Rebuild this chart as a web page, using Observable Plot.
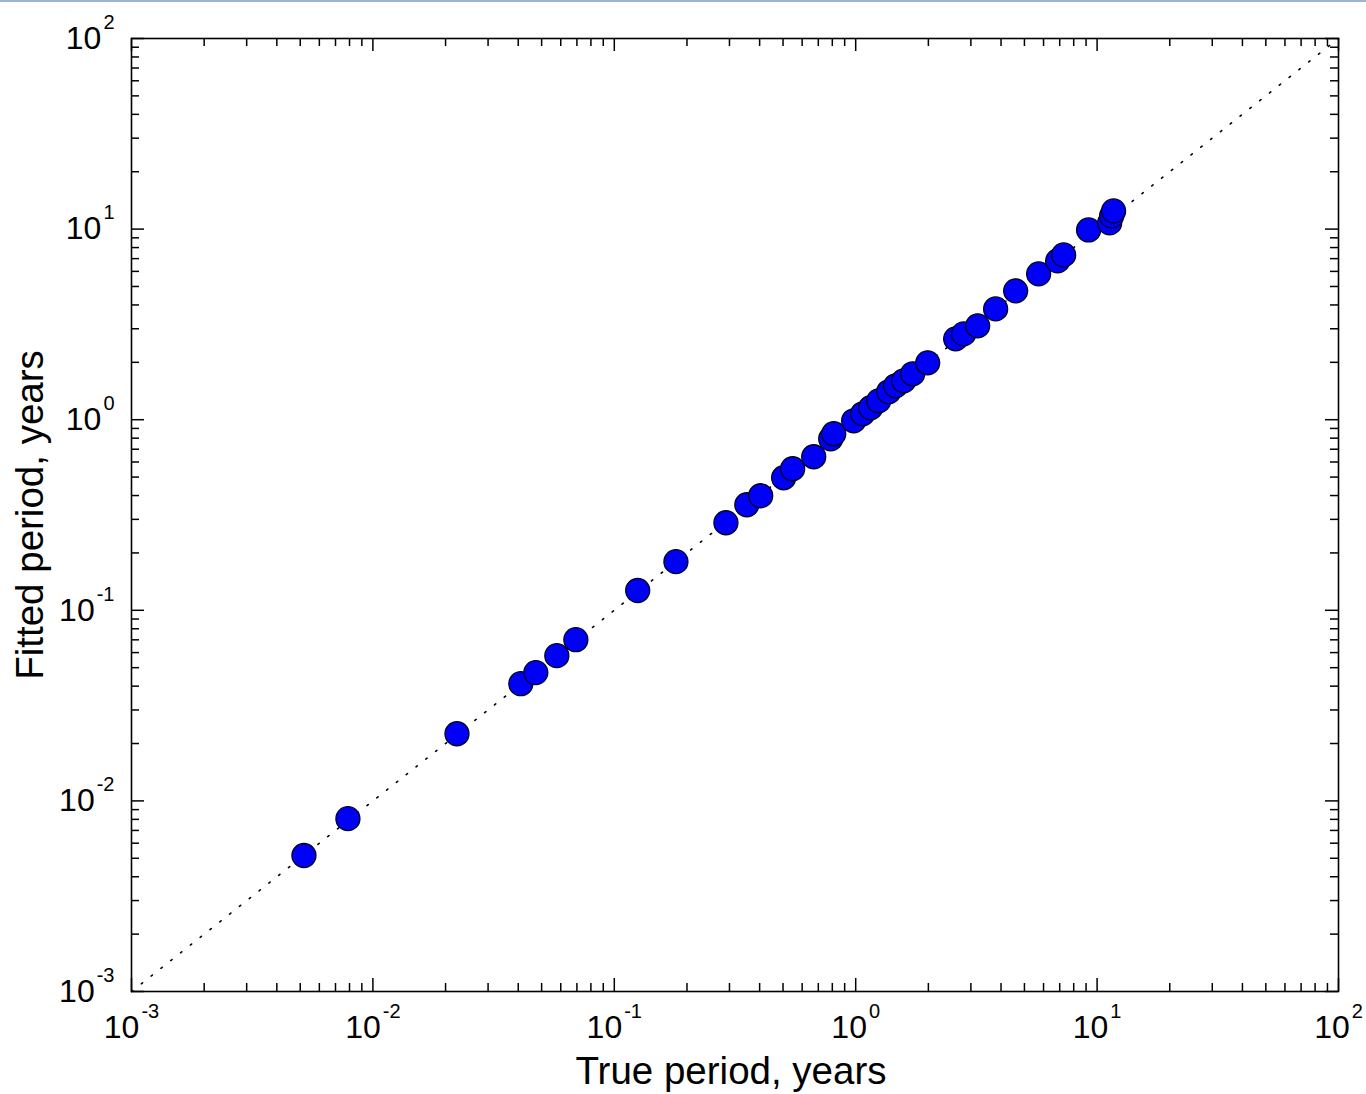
<!DOCTYPE html>
<html><head><meta charset="utf-8">
<script src="https://cdn.jsdelivr.net/npm/d3@7"></script>
<script src="https://cdn.jsdelivr.net/npm/@observablehq/plot@0.6"></script>
<style>
body{margin:0;background:#fff;overflow:hidden}
#topline{position:absolute;left:0;top:0;width:1366px;height:2px;background:#9fb3d9}
</style>
</head><body><div id="topline"></div><div id="chart"></div>
<script>
// Data: true vs fitted period (years)
const truePeriod = [0.00518, 0.00788, 0.0223, 0.0410, 0.0473, 0.0578, 0.0693, 0.125, 0.180,
  0.290, 0.354, 0.404, 0.503, 0.548, 0.670, 0.788, 0.811, 0.981, 1.069, 1.153, 1.245, 1.370,
  1.464, 1.581, 1.722, 1.987, 2.595, 2.800, 3.201, 3.799, 4.598, 5.725, 6.863, 7.267, 9.22,
  11.27, 11.48, 11.70];
const fittedPeriod = [0.00517, 0.00807, 0.0225, 0.0412, 0.0471, 0.0578, 0.0701, 0.127, 0.180,
  0.288, 0.358, 0.399, 0.496, 0.553, 0.639, 0.794, 0.844, 0.987, 1.074, 1.155, 1.256, 1.401,
  1.506, 1.600, 1.741, 1.988, 2.656, 2.82, 3.108, 3.814, 4.742, 5.823, 6.812, 7.321, 9.90,
  10.78, 11.73, 12.46];
const majorTicks = [1e-3, 1e-2, 1e-1, 1e0, 1e1, 1e2];
const majorLabels = ["10^-3", "10^-2", "10^-1", "10^0", "10^1", "10^2"];
const minorMultipliers = [2, 3, 4, 5, 6, 7, 8, 9];
const minorTicks = majorTicks.slice(0, -1).flatMap(d => minorMultipliers.map(m => m * d));
const diagonal = [1e-3, 1e2];
const xLabel = "True period, years";
const yLabel = "Fitted period, years";

const W = 1366, H = 1094, mL = 131, mR = 28, mT = 38, mB = 103;
const ph = H - mT - mB, pw = W - mL - mR;
const points = truePeriod.map((t, i) => ({t, f: fittedPeriod[i]}));
const font = "'Liberation Sans', Arial, Helvetica, sans-serif";
const tk = {stroke: "black", strokeWidth: 1.5};

const chart = Plot.plot({
  width: W, height: H,
  marginLeft: mL, marginRight: mR, marginTop: mT, marginBottom: mB,
  style: {fontFamily: font, background: "white", color: "black", overflow: "visible"},
  x: {type: "log", domain: [1e-3, 1e2], axis: null},
  y: {type: "log", domain: [1e-3, 1e2], axis: null},
  marks: [
    Plot.line(diagonal, {x: d => d, y: d => d, stroke: "black", strokeWidth: 1.6, strokeDasharray: "1.6,10.9"}),
    // minor ticks, inward, all four sides
    Plot.tickX(minorTicks, {x: d => d, insetTop: ph - 8, ...tk}),
    Plot.tickX(minorTicks, {x: d => d, insetBottom: ph - 8, ...tk}),
    Plot.tickY(minorTicks, {y: d => d, insetRight: pw - 8, ...tk}),
    Plot.tickY(minorTicks, {y: d => d, insetLeft: pw - 8, ...tk}),
    // major ticks
    Plot.tickX(majorTicks, {x: d => d, insetTop: ph - 13, ...tk}),
    Plot.tickX(majorTicks, {x: d => d, insetBottom: ph - 13, ...tk}),
    Plot.tickY(majorTicks, {y: d => d, insetRight: pw - 13, ...tk}),
    Plot.tickY(majorTicks, {y: d => d, insetLeft: pw - 13, ...tk}),
    Plot.dot(points, {x: "t", y: "f", r: 12, fill: "#0000f6", stroke: "#000020", strokeWidth: 1.3}),
    Plot.frame({stroke: "black", strokeWidth: 1.6}),
    Plot.text(majorTicks, {x: d => d, text: (d, i) => majorLabels[i], frameAnchor: "bottom",
      lineAnchor: "top", textAnchor: "middle", dy: 24, fontSize: 32, fill: "black"}),
    Plot.text(majorTicks, {y: d => d, text: (d, i) => majorLabels[i], frameAnchor: "left",
      lineAnchor: "middle", textAnchor: "end", dx: -17, fontSize: 32, fill: "black"}),
    Plot.text([xLabel], {text: d => d, frameAnchor: "bottom", lineAnchor: "bottom", textAnchor: "middle",
      dy: 92, dx: -4, fontSize: 38.5, fill: "black"}),
    Plot.text([yLabel], {text: d => d, frameAnchor: "left", lineAnchor: "bottom", textAnchor: "middle",
      rotate: -90, dx: -89, fontSize: 38.5, fill: "black"})
  ]
});

d3.select(chart).selectAll("text").each(function () {
  const s = this.textContent;
  if (!s.includes("^")) return;
  const [b, e] = s.split("^");
  this.textContent = b;
  d3.select(this).append("tspan").attr("dx", 2).attr("dy", -20).attr("font-size", 20).text(e);
});

document.getElementById("chart").appendChild(chart);
</script>
</body></html>
